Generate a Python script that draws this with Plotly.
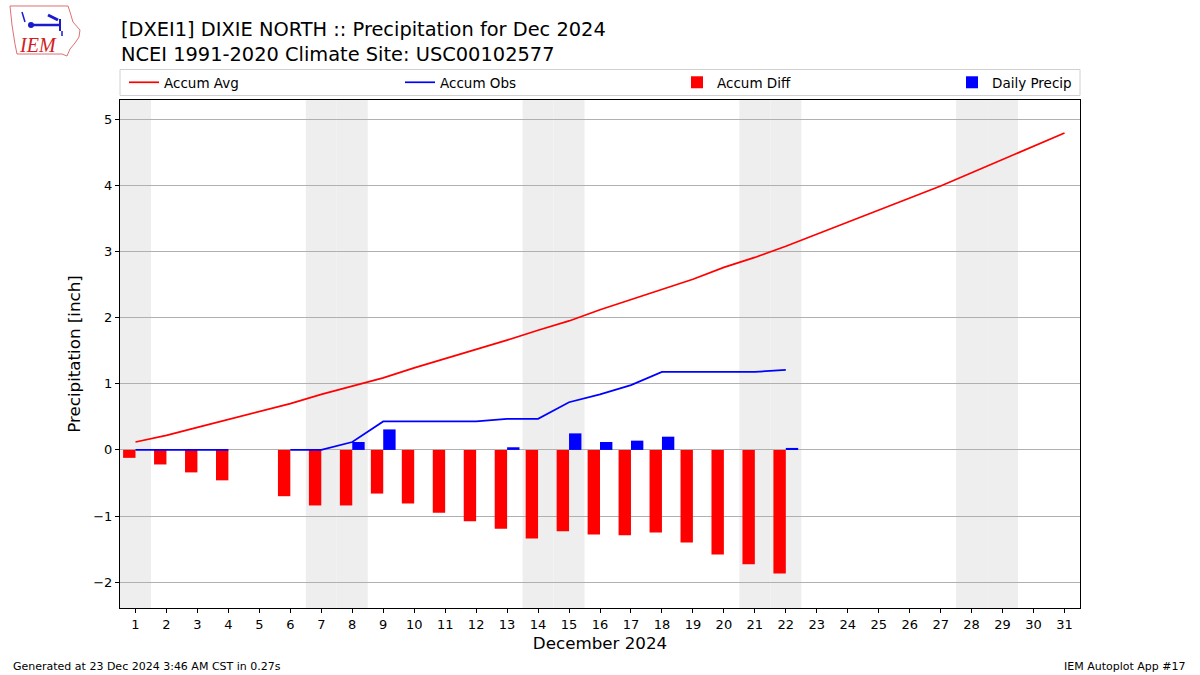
import plotly.graph_objects as go

days = list(range(1, 32))
accum_avg = [0.12, 0.22, 0.34, 0.46, 0.58, 0.70, 0.84, 0.96, 1.09, 1.24, 1.38, 1.51, 1.66, 1.81, 1.95, 2.12,
             2.27, 2.43, 2.58, 2.76, 2.91, 3.08, 3.26, 3.44, 3.62, 3.81, 3.99, 4.19, 4.39, 4.59, 4.79]
obs_days = list(range(1, 23))
accum_obs = [0, 0, 0, 0, None, 0, 0, 0.12, 0.43, 0.43, 0.43, 0.43, 0.47, 0.47, 0.72, 0.84, 0.98, 1.18,
             1.18, 1.18, 1.18, 1.21]
accum_diff = [-0.12, -0.22, -0.34, -0.46, None, -0.70, -0.84, -0.84, -0.66, -0.81, -0.95, -1.08, -1.19,
              -1.34, -1.23, -1.28, -1.29, -1.25, -1.40, -1.58, -1.73, -1.87]
daily_precip = [0, 0, 0, 0, None, 0, 0, 0.12, 0.31, 0, 0, 0, 0.04, 0, 0.25, 0.12, 0.14, 0.20, 0, 0, 0, 0.03]
weekend_days = [1, 7, 8, 14, 15, 21, 22, 28, 29]
y_ticks = [-2, -1, 0, 1, 2, 3, 4, 5]
y_tick_text = ["\u22122", "\u22121", "0", "1", "2", "3", "4", "5"]

FONT = "DejaVu Sans"
W, H = 1200, 675
ML, MR, MT, MB = 120, 120, 100, 67
PW, PH = W - ML - MR, H - MT - MB


def px(x):
    return (x - ML) / PW


def py(y):
    return (H - MB - y) / PH


fig = go.Figure()
fig.add_trace(go.Scatter(x=days, y=accum_avg, mode="lines", name="Accum Avg",
                         line=dict(color="red", width=1.7), legend="legend"))
fig.add_trace(go.Scatter(x=obs_days, y=accum_obs, mode="lines", name="Accum Obs",
                         line=dict(color="blue", width=1.7), connectgaps=False, legend="legend2"))
fig.add_trace(go.Bar(x=obs_days, y=accum_diff, name="Accum Diff", marker=dict(color="red", line_width=0),
                     width=0.4, offset=-0.4, legend="legend3"))
fig.add_trace(go.Bar(x=obs_days, y=daily_precip, name="Daily Precip", marker=dict(color="blue", line_width=0),
                     width=0.4, offset=0, legend="legend4"))

shapes = []
for d in weekend_days:
    shapes.append(dict(type="rect", xref="x", yref="paper", x0=d - 0.5, x1=d + 0.5, y0=0, y1=1,
                       fillcolor="#eeeeee", line_width=0, layer="below"))

# legend frame
shapes.append(dict(type="rect", xref="paper", yref="paper", x0=px(120), x1=px(1080), y0=py(95.5), y1=py(69.5),
                   line=dict(color="#d0d0d0", width=1), fillcolor="rgba(0,0,0,0)"))

# logo approximation (Iowa outline + blue glyph)
outline = [(10, 6), (68, 6), (70, 12), (73, 22), (80, 30), (79, 37), (75, 43), (70, 49), (67, 56),
           (62, 54), (17, 54), (15, 44), (12, 25)]
path = "M " + " L ".join(f"{px(a):.5f} {py(b):.5f}" for a, b in outline) + " Z"
shapes.append(dict(type="path", xref="paper", yref="paper", path=path,
                   line=dict(color="#e07070", width=1), fillcolor="rgba(0,0,0,0)"))
for (a0, b0, a1, b1, w) in [(31, 25, 60, 25, 2.5), (60, 19, 60, 31, 2), (48, 15, 58, 20, 3),
                            (22, 12, 25, 22, 1.5), (62, 31, 62, 36, 1.5)]:
    shapes.append(dict(type="line", xref="paper", yref="paper", x0=px(a0), y0=py(b0), x1=px(a1), y1=py(b1),
                       line=dict(color="#1a1acc", width=w)))
shapes.append(dict(type="circle", xref="paper", yref="paper", x0=px(28), x1=px(34), y0=py(28), y1=py(22),
                   fillcolor="#1a1acc", line_width=0))

legend_common = dict(orientation="h", yanchor="middle", xanchor="left", bgcolor="rgba(0,0,0,0)",
                     borderwidth=0, font=dict(family=FONT, size=13.5), y=py(82.5))

fig.update_layout(
    width=W, height=H,
    margin=dict(l=ML, r=MR, t=MT, b=MB, autoexpand=False),
    paper_bgcolor="white", plot_bgcolor="white",
    font=dict(family=FONT, size=13, color="black"),
    barmode="overlay",
    shapes=shapes,
    showlegend=True,
    legend=dict(legend_common, x=px(124)),
    legend2=dict(legend_common, x=px(400)),
    legend3=dict(legend_common, x=px(677)),
    legend4=dict(legend_common, x=px(952)),
    xaxis=dict(range=[0.5, 31.5], tickmode="array", tickvals=days, ticktext=[str(d) for d in days],
               showgrid=False, zeroline=False, showline=True, linecolor="black", linewidth=1, mirror=True,
               ticks="outside", ticklen=4, tickcolor="black", automargin=False,
               title=dict(text="December 2024", font=dict(size=16.7), standoff=6)),
    yaxis=dict(range=[-2.39, 5.29], tickmode="array", tickvals=y_ticks, ticktext=y_tick_text,
               showgrid=True, gridcolor="#b0b0b0", gridwidth=1, zeroline=False,
               showline=True, linecolor="black", linewidth=1, mirror=True,
               ticks="outside", ticklen=4, tickcolor="black", automargin=False,
               title=dict(text="Precipitation [inch]", font=dict(size=16.7), standoff=8)),
    annotations=[
        dict(text="[DXEI1] DIXIE NORTH :: Precipitation for Dec 2024<br>NCEI 1991-2020 Climate Site: USC00102577",
             xref="paper", yref="paper", x=px(119), y=py(16), xanchor="left", yanchor="top",
             showarrow=False, align="left", font=dict(size=19.4, family=FONT)),
        dict(text="Generated at 23 Dec 2024 3:46 AM CST in 0.27s", xref="paper", yref="paper",
             x=px(11), y=py(666), xanchor="left", yanchor="middle", showarrow=False,
             font=dict(size=11, family=FONT)),
        dict(text="IEM Autoplot App #17", xref="paper", yref="paper",
             x=px(1188), y=py(666), xanchor="right", yanchor="middle", showarrow=False,
             font=dict(size=11, family=FONT)),
        dict(text="<i>IEM</i>", xref="paper", yref="paper", x=px(38), y=py(45), xanchor="center",
             yanchor="middle", showarrow=False, font=dict(size=20, family="Liberation Serif", color="#d02020")),
    ],
)

fig.write_html("out.html", config={"displayModeBar": False},
               post_script="document.body.style.margin='0';")
